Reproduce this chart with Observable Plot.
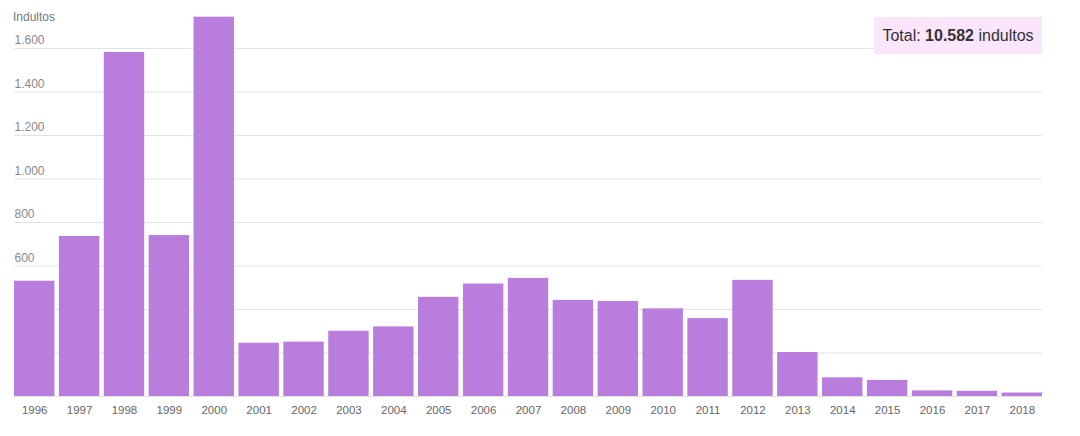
<!DOCTYPE html>
<html>
<head>
<meta charset="utf-8">
<script src="https://cdn.jsdelivr.net/npm/d3@7"></script>
<script src="https://cdn.jsdelivr.net/npm/@observablehq/plot@0.6"></script>
<style>
  html, body { margin: 0; padding: 0; background: #fff; }
  #wrap { position: relative; width: 1080px; height: 436px; font-family: "Liberation Sans", Arial, sans-serif; }
  #ylabel { position: absolute; left: 13px; top: 10px; font-size: 12px; color: #777; }
  #total { position: absolute; left: 874px; top: 17px; width: 168px; height: 37px; background: #fbe5fb;
           font-size: 16px; color: #333; display: flex; align-items: center; justify-content: center; }
</style>
</head>
<body>
<div id="wrap">
  <div id="chart"></div>
  <div id="ylabel">Indultos</div>
  <div id="total"><span>Total:&nbsp;<b>10.582</b>&nbsp;indultos</span></div>
</div>
<script>
const years = ["1996","1997","1998","1999","2000","2001","2002","2003","2004","2005","2006","2007","2008","2009","2010","2011","2012","2013","2014","2015","2016","2017","2018"];
const pardons = [530,736,1582,740,1744,245,250,300,320,456,517,543,442,437,403,358,534,202,86,74,26,24,16];
const yTicks = [0,200,400,600,800,1000,1200,1400,1600];

const data = years.map((y, i) => ({year: y, value: pardons[i]}));
const fmt = d3.format(",");
const fmtEs = v => fmt(v).replace(/,/g, ".");

const chart = Plot.plot({
  width: 1080,
  height: 436,
  marginLeft: 14,
  marginRight: 38,
  marginTop: 48,
  marginBottom: 40,
  style: {fontFamily: "'Liberation Sans', Arial, sans-serif", background: "#fff"},
  x: {domain: years, paddingInner: 0.1, paddingOuter: 0, round: false, label: null},
  y: {domain: [0, 1600], label: null, axis: null},
  marks: [
    Plot.ruleY(yTicks, {stroke: "#e3e3e3", strokeWidth: 1}),
    Plot.text(yTicks, {y: d => d, text: d => fmtEs(d), frameAnchor: "left", textAnchor: "start", dy: -8, fontSize: 12, fill: "#888"}),
    Plot.barY(data, {x: "year", y: "value", fill: "#b87ddd"}),
    Plot.axisX({tickSize: 0, tickPadding: 9, fontSize: 11.5, color: "#666", label: null})
  ]
});
document.getElementById("chart").appendChild(chart);
</script>
</body>
</html>
